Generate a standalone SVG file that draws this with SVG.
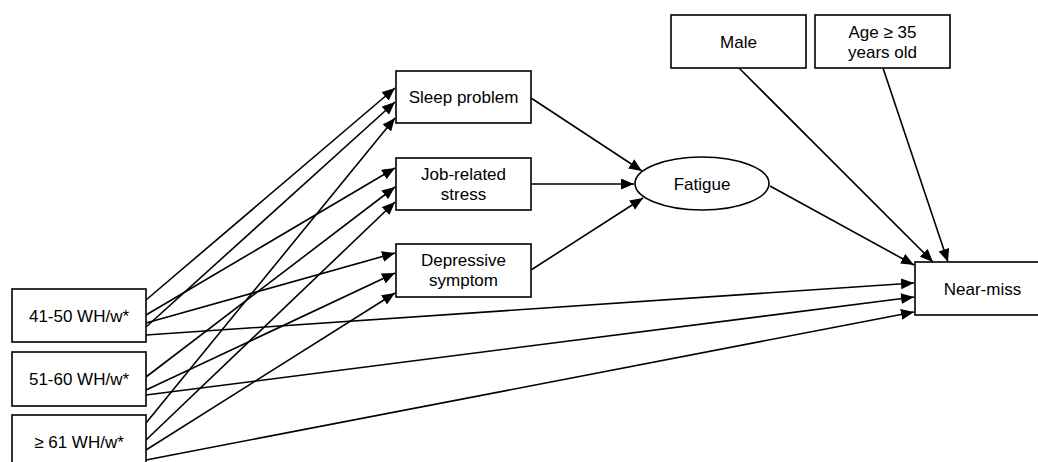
<svg xmlns="http://www.w3.org/2000/svg" width="1038" height="462" viewBox="0 0 1038 462">
<defs>
<style>
.box{fill:#fff;stroke:#000;stroke-width:1.6}
.lbl{font-family:"Liberation Sans",Arial,sans-serif;font-size:17px;fill:#000;text-anchor:middle}
.c{stroke:#000;stroke-width:1.6;fill:none;marker-end:url(#ah)}
</style>
<marker id="ah" markerUnits="userSpaceOnUse" markerWidth="14" markerHeight="12" refX="13" refY="5.5" orient="auto">
<path d="M0,0 L13,5.5 L0,11 z" fill="#000"/>
</marker>
</defs>
<rect width="1038" height="462" fill="#fff"/>
<g id="connectors">
<line class="c" x1="146" y1="300" x2="395" y2="88"/>
<line class="c" x1="146" y1="315" x2="395" y2="168"/>
<line class="c" x1="146" y1="323" x2="395" y2="253"/>
<line class="c" x1="146" y1="327" x2="395" y2="102"/>
<line class="c" x1="146" y1="335" x2="914" y2="283"/>
<line class="c" x1="146" y1="377" x2="395" y2="187"/>
<line class="c" x1="146" y1="390" x2="395" y2="273"/>
<line class="c" x1="146" y1="395" x2="914" y2="297"/>
<line class="c" x1="146" y1="423" x2="395" y2="118"/>
<line class="c" x1="146" y1="440" x2="395" y2="202"/>
<line class="c" x1="146" y1="450" x2="395" y2="293"/>
<line class="c" x1="146" y1="460" x2="914" y2="312"/>
<line class="c" x1="531" y1="98" x2="642" y2="171"/>
<line class="c" x1="531" y1="184" x2="634" y2="184"/>
<line class="c" x1="531" y1="270" x2="643" y2="198"/>
<line class="c" x1="770" y1="186" x2="914" y2="265"/>
<line class="c" x1="739" y1="68" x2="933" y2="262"/>
<line class="c" x1="883" y1="68" x2="948" y2="262"/>
</g>
<g id="n4150"><rect class="box" x="12" y="289" width="134" height="53"/><text class="lbl" x="79" y="321.5">41-50 WH/w*</text></g>
<g id="n5160"><rect class="box" x="12" y="352" width="134" height="54"/><text class="lbl" x="79" y="385">51-60 WH/w*</text></g>
<g id="n61"><rect class="box" x="12" y="415" width="134" height="53"/><text class="lbl" x="79" y="447.5">≥ 61 WH/w*</text></g>
<g id="sleep"><rect class="box" x="396" y="71" width="135" height="52"/><text class="lbl" x="463.5" y="103">Sleep problem</text></g>
<g id="job"><rect class="box" x="396" y="158" width="135" height="52"/><text class="lbl" x="463.5" y="180">Job-related</text><text class="lbl" x="463.5" y="200">stress</text></g>
<g id="dep"><rect class="box" x="396" y="244" width="135" height="53"/><text class="lbl" x="463.5" y="266">Depressive</text><text class="lbl" x="463.5" y="286">symptom</text></g>
<g id="fatigue"><ellipse class="box" cx="702" cy="183.5" rx="67" ry="26.5"/><text class="lbl" x="702" y="189.5">Fatigue</text></g>
<g id="male"><rect class="box" x="671" y="15" width="135" height="53"/><text class="lbl" x="738.5" y="47.5">Male</text></g>
<g id="age"><rect class="box" x="815" y="15" width="135" height="53"/><text class="lbl" x="882.5" y="37.5">Age ≥ 35</text><text class="lbl" x="882.5" y="57.5">years old</text></g>
<g id="nearmiss"><rect class="box" x="915" y="262" width="135" height="53"/><text class="lbl" x="982.5" y="294.5">Near-miss</text></g>
</svg>
